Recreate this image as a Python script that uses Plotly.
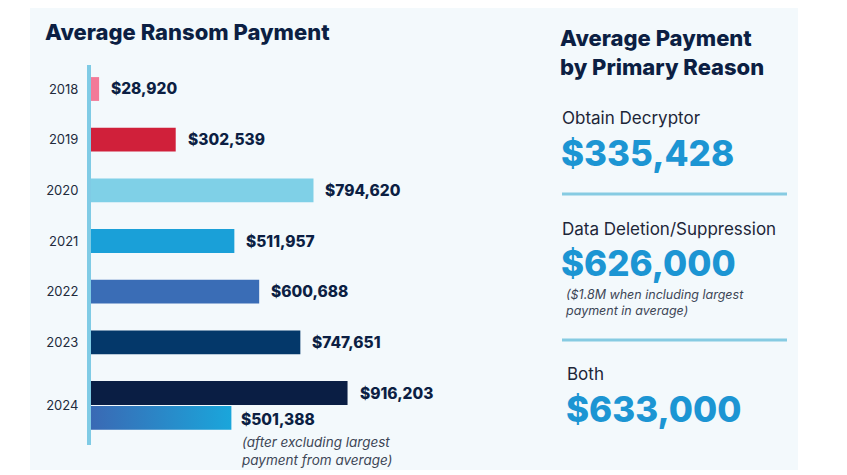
import plotly.graph_objects as go

W, H = 847, 475

# ---------------- data ----------------
years = ["2018", "2019", "2020", "2021", "2022", "2023", "2024"]
avg_payment = [28920, 302539, 794620, 511957, 600688, 747651, 916203]
bar_colors = ["#f27a98", "#d0203a", "#7fd0e7", "#1aa0d8", "#3a6db6", "#04386a", "#0a1e44"]
excl_label = "2024"
excl_value = 501388
excl_note = ["(after excluding largest", "payment from average)"]

reason_title = ["Average Payment", "by Primary Reason"]
reasons = ["Obtain Decryptor", "Data Deletion/Suppression", "Both"]
reason_values = [335428, 626000, 633000]
reason_notes = [None, ["($1.8M when including largest", "payment in average)"], None]

# ---------------- helpers ----------------
def px(x):
    return x / W

def py(y):
    return 1 - y / H

def money(v):
    return "${:,}".format(v)

NAVY = "#0c1f43"
BLUE = "#1c95d3"
FONT = "Inter"

pos = list(range(len(years)))
bar_w = 0.47
excl_pos = pos[-1] + 0.49

fig = go.Figure()

fig.add_trace(go.Bar(
    x=avg_payment, y=pos, orientation="h",
    marker=dict(color=bar_colors, line=dict(width=0)),
    width=bar_w, hoverinfo="skip", showlegend=False,
))

# gradient bar for 2024 (excluding largest payment), built from its value
fig.add_trace(go.Scatter(
    x=[0, excl_value, excl_value, 0, 0],
    y=[excl_pos - bar_w / 2, excl_pos - bar_w / 2, excl_pos + bar_w / 2, excl_pos + bar_w / 2, excl_pos - bar_w / 2],
    mode="lines", line=dict(width=0), fill="toself",
    fillgradient=dict(type="horizontal", colorscale=[[0, "#3a69b4"], [1, "#1aa6db"]]),
    hoverinfo="skip", showlegend=False,
))

annotations = []
for v, p in zip(avg_payment, pos):
    annotations.append(dict(
        x=v, y=p, xref="x", yref="y", text=money(v), showarrow=False,
        xanchor="left", yanchor="middle", xshift=10,
        font=dict(family=FONT, size=15.5, color=NAVY, weight=800),
    ))
annotations.append(dict(
    x=excl_value, y=excl_pos, xref="x", yref="y", text=money(excl_value), showarrow=False,
    xanchor="left", yanchor="middle", xshift=8, yshift=-2,
    font=dict(family=FONT, size=15.5, color=NAVY, weight=800),
))
annotations.append(dict(
    x=excl_value, y=excl_pos, xref="x", yref="y", text="<br>".join(excl_note), showarrow=False,
    xanchor="left", yanchor="top", xshift=8, yshift=-14, align="left",
    font=dict(family=FONT, size=13.5, color="#3d4656", style="italic"),
))

# chart title
annotations.append(dict(
    x=px(43), y=py(32), xref="paper", yref="paper", text="Average Ransom Payment",
    showarrow=False, xanchor="left", yanchor="middle",
    font=dict(family=FONT, size=22, color=NAVY, weight=800),
))

# right panel
annotations.append(dict(
    x=px(558), y=py(53), xref="paper", yref="paper", text="<br>".join(reason_title),
    showarrow=False, xanchor="left", yanchor="middle", align="left",
    font=dict(family=FONT, size=22, color=NAVY, weight=800),
))
label_y = [118, 229, 374]
value_y = [153, 263, 409]
xs = [562, 562, 567]
for r, v, note, ly, vy, x0 in zip(reasons, reason_values, reason_notes, label_y, value_y, xs):
    annotations.append(dict(
        x=px(x0 - 2), y=py(ly), xref="paper", yref="paper", text=r, showarrow=False,
        xanchor="left", yanchor="middle",
        font=dict(family=FONT, size=17, color="#1d2638"),
    ))
    annotations.append(dict(
        x=px(x0 - 3), y=py(vy), xref="paper", yref="paper", text=money(v), showarrow=False,
        xanchor="left", yanchor="middle",
        font=dict(family=FONT, size=35, color=BLUE, weight=800),
    ))
    if note:
        annotations.append(dict(
            x=px(x0 + 1), y=py(vy + 22), xref="paper", yref="paper", text="<br>".join(note),
            showarrow=False, xanchor="left", yanchor="top", align="left",
            font=dict(family=FONT, size=12.5, color="#3d4656", style="italic"),
        ))

shapes = [
    dict(type="rect", xref="paper", yref="paper", x0=px(30), x1=px(798), y0=py(470), y1=py(8),
         fillcolor="#f3f9fc", line=dict(width=0), layer="below"),
    dict(type="line", xref="paper", yref="paper", x0=px(562), x1=px(787), y0=py(194), y1=py(194),
         line=dict(color="#86cbe2", width=3)),
    dict(type="line", xref="paper", yref="paper", x0=px(562), x1=px(787), y0=py(340), y1=py(340),
         line=dict(color="#86cbe2", width=3)),
]

tick_pos = pos[:-1] + [(pos[-1] + excl_pos) / 2]

# axis geometry (pixels)
top_px, bot_px, first_px, step_px = 65, 445, 89, 50.67
y_top = (top_px - first_px) / step_px
y_bot = (bot_px - first_px) / step_px
x_scale = 0.00028  # px per dollar
plot_w = 400

fig.update_layout(
    width=W, height=H,
    margin=dict(l=0, r=0, t=0, b=0),
    paper_bgcolor="white", plot_bgcolor="rgba(0,0,0,0)",
    shapes=shapes, annotations=annotations,
    xaxis=dict(domain=[px(91), px(91 + plot_w)], range=[0, plot_w / x_scale],
               visible=False, fixedrange=True),
    yaxis=dict(domain=[py(bot_px), py(top_px)], range=[y_bot, y_top],
               tickvals=tick_pos, ticktext=years, showgrid=False, zeroline=False,
               showline=True, linecolor="#7fcbe5", linewidth=4,
               ticks="", ticklabelstandoff=6, fixedrange=True,
               tickfont=dict(family=FONT, size=13, color="#222b3c")),
    font=dict(family=FONT),
)

fig.write_html("out.html", config={"displayModeBar": False},
               post_script="document.body.style.margin='0';document.body.style.overflow='hidden';")
